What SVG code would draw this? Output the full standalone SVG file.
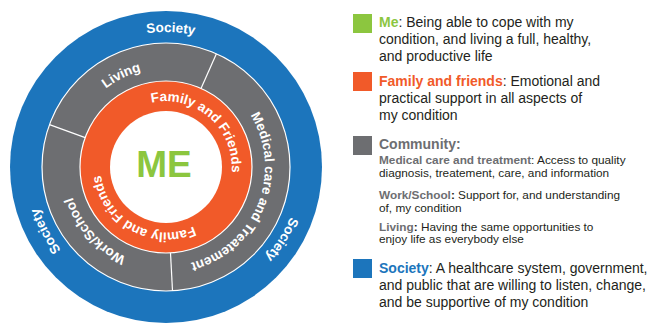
<svg xmlns="http://www.w3.org/2000/svg" width="652" height="325" viewBox="0 0 652 325">
  <style>
    .arc { font-family: "Liberation Sans", Arial, sans-serif; font-weight: bold; font-size: 13.5px; fill: #ffffff; }
    .txt { font-family: "Liberation Sans", Arial, sans-serif; fill: #231f20; }
    .big { font-size: 14px; }
    .small { font-size: 11.8px; }
    .b { font-weight: bold; }
    .green { fill: #8cc63f; }
    .orange { fill: #f15a29; }
    .gray { fill: #6d6e71; }
    .blue { fill: #1c75bc; }
    .sep { stroke: #ffffff; stroke-width: 1.2; }
  </style>
  <defs>
    <!-- clockwise half-circle guides, each centred on its label -->
    <path id="pSoc1" d="M31.08,162.29 A135,135 0 0 1 300.92,171.71"/>
    <path id="pSoc2" d="M237.54,52.52 A135,135 0 0 1 94.46,281.48"/>
    <path id="pSoc3" d="M229.38,286.19 A135,135 0 0 1 102.62,47.81"/>
    <path id="pLiving" d="M77.02,210.40 A99,99 0 0 1 254.98,123.60"/>
    <path id="pMedical" d="M203.09,75.21 A99,99 0 0 1 128.91,258.79"/>
    <path id="pWork" d="M232.24,240.57 A99,99 0 0 1 99.76,93.43"/>
    <path id="pFam1" d="M116.19,123.70 A66,66 0 0 1 215.81,210.30"/>
    <path id="pFam2" d="M223.72,199.00 A66,66 0 0 1 108.28,135.00"/>
  </defs>

  <g id="society">
    <circle cx="166" cy="167" r="156" class="blue"/>
    <text class="arc"><textPath href="#pSoc1" startOffset="50%" text-anchor="middle">Society</textPath></text>
    <text class="arc"><textPath href="#pSoc2" startOffset="50%" text-anchor="middle">Society</textPath></text>
    <text class="arc"><textPath href="#pSoc3" startOffset="50%" text-anchor="middle">Society</textPath></text>
  </g>

  <g id="community">
    <circle cx="166" cy="167" r="124" class="gray sep"/>
    <text class="arc"><textPath href="#pLiving" startOffset="50%" text-anchor="middle">Living</textPath></text>
    <text class="arc"><textPath href="#pMedical" startOffset="50%" text-anchor="middle">Medical care and Treatement</textPath></text>
    <text class="arc"><textPath href="#pWork" startOffset="50%" text-anchor="middle">Work/School</textPath></text>
  </g>

  <g id="family">
    <circle cx="166" cy="167" r="86" class="orange sep"/>
    <text class="arc"><textPath href="#pFam1" startOffset="50%" text-anchor="middle">Family and Friends</textPath></text>
    <text class="arc"><textPath href="#pFam2" startOffset="50%" text-anchor="middle">Family and Friends</textPath></text>
  </g>

  <g id="me">
    <circle cx="166" cy="167" r="56" fill="#ffffff"/>
    <text x="164" y="177" text-anchor="middle" font-family="Liberation Sans, Arial, sans-serif" font-weight="bold" font-size="37" class="green">ME</text>
  </g>

  <!-- segment dividers of the community ring -->
  <g id="connectors" class="sep">
    <line x1="201.0" y1="88.4" x2="216.4" y2="53.7"/>
    <line x1="85.2" y1="137.6" x2="49.5" y2="124.6"/>
    <line x1="170.5" y1="252.9" x2="172.5" y2="290.8"/>
  </g>

  <g id="legend-me">
    <rect x="353" y="14" width="19" height="19" class="green"/>
    <text class="txt big" x="379" y="27"><tspan class="b green">Me</tspan>: Being able to cope with my</text>
    <text class="txt big" x="379" y="44">condition, and living a full, healthy,</text>
    <text class="txt big" x="379" y="61">and productive life</text>
  </g>

  <g id="legend-family">
    <rect x="353" y="72" width="19" height="19" class="orange"/>
    <text class="txt big" x="379" y="86"><tspan class="b orange">Family and friends</tspan>: Emotional and</text>
    <text class="txt big" x="379" y="103">practical support in all aspects of</text>
    <text class="txt big" x="379" y="120">my condition</text>
  </g>

  <g id="legend-community">
    <rect x="353" y="136" width="19" height="19" class="gray"/>
    <text class="txt big b gray" x="379" y="149">Community:</text>
    <text class="txt small" x="379" y="164"><tspan class="b gray">Medical care and treatment</tspan>: Access to quality</text>
    <text class="txt small" x="379" y="176.5">diagnosis, treatement, care, and information</text>
    <text class="txt small" x="379" y="199"><tspan class="b gray">Work/School</tspan><tspan class="b">:</tspan> Support for, and understanding</text>
    <text class="txt small" x="379" y="212">of, my condition</text>
    <text class="txt small" x="379" y="230.5"><tspan class="b gray">Living</tspan><tspan class="b">:</tspan> Having the same opportunities to</text>
    <text class="txt small" x="379" y="243">enjoy life as everybody else</text>
  </g>

  <g id="legend-society">
    <rect x="353" y="259" width="19" height="19" class="blue"/>
    <text class="txt big" x="379" y="272.5"><tspan class="b blue">Society</tspan>: A healthcare system, government,</text>
    <text class="txt big" x="379" y="290">and public that are willing to listen, change,</text>
    <text class="txt big" x="379" y="307">and be supportive of my condition</text>
  </g>
</svg>
